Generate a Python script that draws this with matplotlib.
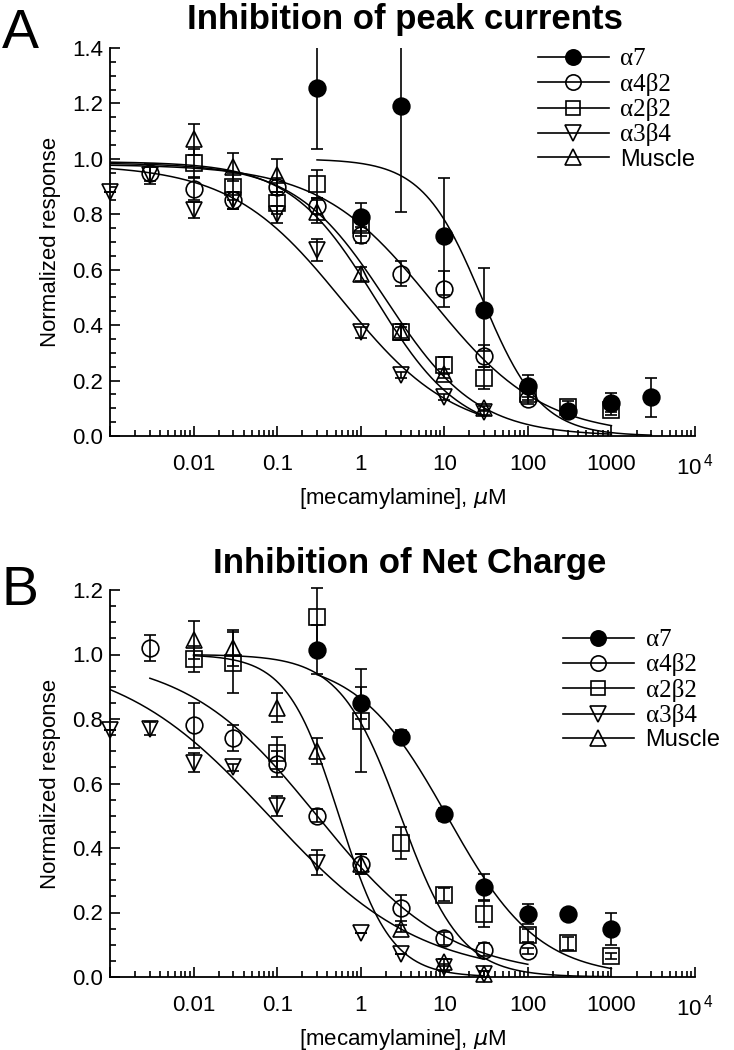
import numpy as np
import matplotlib.pyplot as plt
from matplotlib.lines import Line2D
from matplotlib.ticker import FixedLocator, FixedFormatter, LogLocator, NullFormatter, MultipleLocator

plt.rcParams['font.family'] = ['Liberation Sans', 'DejaVu Sans']
plt.rcParams['mathtext.fontset'] = 'custom'
plt.rcParams['mathtext.rm'] = 'Liberation Sans'

names = ['α7', 'α4β2', 'α2β2', 'α3β4', 'Muscle']
markers = ['o', 'o', 's', 'v', '^']
fills = ['black', 'none', 'none', 'none', 'none']
msizes = [12, 12, 11, 12, 12]

# ---- panel A: peak currents ----
peak_a7_x = [0.3, 1, 3, 10, 30, 100, 300, 1000, 3000]
peak_a7_y = [1.255, 0.79, 1.19, 0.72, 0.455, 0.18, 0.09, 0.12, 0.14]
peak_a7_e = [0.22, 0.05, 0.38, 0.21, 0.15, 0.04, 0.02, 0.035, 0.07]

peak_a4b2_x = [0.003, 0.01, 0.03, 0.1, 0.3, 1, 3, 10, 30, 100]
peak_a4b2_y = [0.95, 0.89, 0.85, 0.90, 0.83, 0.725, 0.585, 0.53, 0.29, 0.135]
peak_a4b2_e = [0.03, 0.04, 0.03, 0.03, 0.03, 0.03, 0.045, 0.065, 0.04, 0.02]

peak_a2b2_x = [0.01, 0.03, 0.1, 0.3, 1, 3, 10, 30, 100, 300, 1000]
peak_a2b2_y = [0.985, 0.90, 0.84, 0.91, 0.76, 0.375, 0.255, 0.21, 0.15, 0.105, 0.095]
peak_a2b2_e = [0.05, 0.05, 0.04, 0.05, 0.04, 0.03, 0.03, 0.04, 0.02, 0.02, 0.02]

peak_a3b4_x = [0.001, 0.003, 0.01, 0.03, 0.1, 0.3, 1, 3, 10, 30]
peak_a3b4_y = [0.88, 0.94, 0.815, 0.85, 0.80, 0.67, 0.375, 0.22, 0.14, 0.085]
peak_a3b4_e = [0.0, 0.03, 0.03, 0.03, 0.03, 0.04, 0.02, 0.01, 0.01, 0.01]

peak_mus_x = [0.01, 0.03, 0.1, 0.3, 1, 3, 10, 30]
peak_mus_y = [1.07, 0.97, 0.94, 0.81, 0.585, 0.375, 0.225, 0.10]
peak_mus_e = [0.055, 0.05, 0.06, 0.04, 0.025, 0.02, 0.015, 0.01]

# Hill fits: top, IC50, slope, first and last concentration of the drawn curve
peak_top = [1.0, 0.98, 0.985, 0.98, 0.99]
peak_ic50 = [28, 7, 2, 0.6, 1.5]
peak_hill = [1.23, 0.65, 0.8, 0.65, 0.85]
peak_from = [0.3, 0.001, 0.001, 0.001, 0.001]
peak_to = [3000, 1000, 1000, 30, 30]

# ---- panel B: net charge ----
net_a7_x = [0.3, 1, 3, 10, 30, 100, 300, 1000]
net_a7_y = [1.015, 0.85, 0.745, 0.505, 0.28, 0.195, 0.195, 0.15]
net_a7_e = [0.075, 0.05, 0.02, 0.02, 0.04, 0.03, 0.01, 0.05]

net_a4b2_x = [0.003, 0.01, 0.03, 0.1, 0.3, 1, 3, 10, 30, 100]
net_a4b2_y = [1.02, 0.78, 0.74, 0.66, 0.50, 0.35, 0.215, 0.12, 0.085, 0.08]
net_a4b2_e = [0.04, 0.07, 0.04, 0.04, 0.02, 0.03, 0.04, 0.02, 0.02, 0.01]

net_a2b2_x = [0.01, 0.03, 0.1, 0.3, 1, 3, 10, 30, 100, 300, 1000]
net_a2b2_y = [0.985, 0.975, 0.695, 1.115, 0.795, 0.415, 0.255, 0.195, 0.13, 0.105, 0.065]
net_a2b2_e = [0.04, 0.095, 0.05, 0.09, 0.16, 0.05, 0.02, 0.04, 0.02, 0.02, 0.01]

net_a3b4_x = [0.001, 0.003, 0.01, 0.03, 0.1, 0.3, 1, 3, 10, 30]
net_a3b4_y = [0.765, 0.77, 0.665, 0.65, 0.53, 0.355, 0.135, 0.07, 0.03, 0.01]
net_a3b4_e = [0.0, 0.02, 0.03, 0.01, 0.03, 0.04, 0.0, 0.0, 0.01, 0.01]

net_mus_x = [0.01, 0.03, 0.1, 0.3, 1, 3, 10, 30]
net_mus_y = [1.045, 1.02, 0.835, 0.70, 0.35, 0.15, 0.045, 0.01]
net_mus_e = [0.06, 0.055, 0.045, 0.04, 0.03, 0.01, 0.01, 0.01]

net_top = [0.99, 1.0, 1.0, 1.0, 1.0]
net_ic50 = [11, 0.3, 3, 0.08, 0.55]
net_hill = [0.8, 0.55, 1.2, 0.48, 1.4]
net_from = [0.3, 0.003, 0.01, 0.001, 0.01]
net_to = [1000, 100, 1000, 30, 30]

xticks = [1e-3, 1e-2, 1e-1, 1, 10, 100, 1000, 1e4]
xticklabels = ['', '0.01', '0.1', '1', '10', '100', '1000', r'10$^{\,4}$']


def draw_panel(ax, series, top, ic50, hill, c_from, c_to, ymax, legend_xy):
    for k in range(5):
        c = np.logspace(np.log10(c_from[k]), np.log10(c_to[k]), 300)
        ax.plot(c, top[k] / (1 + (c / ic50[k]) ** hill[k]), color='black', lw=1.1, zorder=2)
    for k, (x, y, e) in enumerate(series):
        ax.errorbar(x, y, yerr=e, fmt=markers[k], ms=msizes[k], mfc=fills[k], mec='black',
                    mew=1.2, ecolor='black', elinewidth=1.2, capsize=4.3, capthick=1.2,
                    zorder=3, clip_on=(k == 0 and ymax > 1.3))
    ax.set_xscale('log')
    ax.set_xlim(1e-3, 1e4)
    ax.set_ylim(0, ymax)
    ax.xaxis.set_major_locator(FixedLocator(xticks))
    ax.xaxis.set_major_formatter(FixedFormatter(xticklabels))
    ax.xaxis.set_minor_locator(LogLocator(base=10, subs=range(2, 10), numticks=20))
    ax.xaxis.set_minor_formatter(NullFormatter())
    ax.yaxis.set_major_locator(MultipleLocator(0.2))
    ax.yaxis.set_minor_locator(MultipleLocator(0.05))
    ax.yaxis.set_major_formatter(lambda v, p: f'{v:.1f}')
    for s in ['top', 'right']:
        ax.spines[s].set_visible(False)
    for s in ['left', 'bottom']:
        ax.spines[s].set_linewidth(1.3)
    ax.tick_params(which='both', direction='in', width=1.2, labelsize=16)
    ax.tick_params(which='major', length=7)
    ax.tick_params(which='minor', length=4.5)
    ax.tick_params(axis='x', pad=13)
    ax.tick_params(axis='y', pad=5)
    ax.set_xlabel(r'[mecamylamine], $\mu$M', fontsize=16, labelpad=4)
    ax.set_ylabel('Normalized response', fontsize=16, labelpad=8)

    handles = [Line2D([], [], color='black', lw=1.2, marker=markers[k], ms=msizes[k] - 1,
                      mfc=fills[k], mec='black', mew=1.2) for k in range(5)]
    leg = ax.legend(handles, names, loc='upper left', bbox_to_anchor=legend_xy, frameon=False,
                    borderpad=0, handlelength=3.0, handletextpad=0.5, labelspacing=0.1,
                    fontsize=17)
    for t in leg.get_texts():
        if t.get_text() != 'Muscle':
            t.set_fontfamily(['Liberation Serif', 'DejaVu Serif'])
            t.set_fontsize(18)


fig = plt.figure(figsize=(7.34, 10.5), dpi=100)
ax_a = fig.add_axes([110 / 734, 1 - 436 / 1050, 585 / 734, 388 / 1050])
ax_b = fig.add_axes([110 / 734, 1 - 977 / 1050, 585 / 734, 387 / 1050])

peak_series = [(peak_a7_x, peak_a7_y, peak_a7_e), (peak_a4b2_x, peak_a4b2_y, peak_a4b2_e),
               (peak_a2b2_x, peak_a2b2_y, peak_a2b2_e), (peak_a3b4_x, peak_a3b4_y, peak_a3b4_e),
               (peak_mus_x, peak_mus_y, peak_mus_e)]
net_series = [(net_a7_x, net_a7_y, net_a7_e), (net_a4b2_x, net_a4b2_y, net_a4b2_e),
              (net_a2b2_x, net_a2b2_y, net_a2b2_e), (net_a3b4_x, net_a3b4_y, net_a3b4_e),
              (net_mus_x, net_mus_y, net_mus_e)]

draw_panel(ax_a, peak_series, peak_top, peak_ic50, peak_hill, peak_from, peak_to, 1.4, (0.711, 1.03))
draw_panel(ax_b, net_series, net_top, net_ic50, net_hill, net_from, net_to, 1.2, (0.754, 0.93))

fig.text(405 / 734, 1 - 29 / 1050, 'Inhibition of peak currents', ha='center', va='baseline',
         fontsize=25, fontweight='bold')
fig.text(410 / 734, 1 - 573 / 1050, 'Inhibition of Net Charge', ha='center', va='baseline',
         fontsize=25, fontweight='bold')
fig.text(2 / 734, 1 - 48 / 1050, 'A', ha='left', va='baseline', fontsize=40)
fig.text(2 / 734, 1 - 605 / 1050, 'B', ha='left', va='baseline', fontsize=40)

fig.savefig('out.png', dpi=100, facecolor='white')
